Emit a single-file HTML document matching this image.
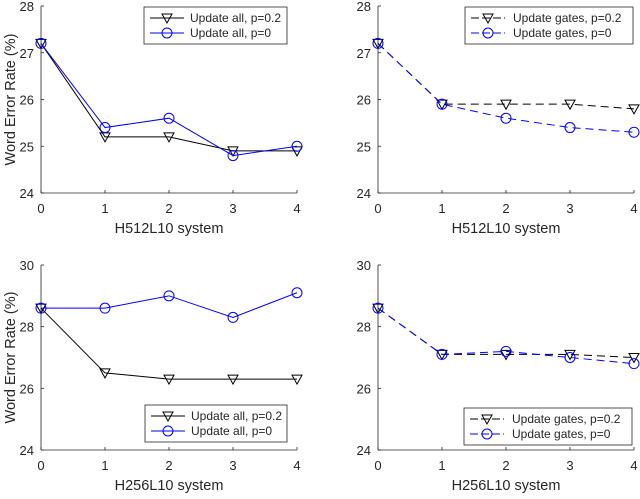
<!DOCTYPE html>
<html><head><meta charset="utf-8"><style>
body{margin:0;background:#fff}
svg text{font-family:"Liberation Sans",sans-serif;font-size:12px;fill:#262626}
svg text.tk{font-size:13px}
svg text.ti{font-size:14.5px}
</style></head><body>
<svg id="c" width="640" height="494" viewBox="0 0 640 494"></svg>
<script>
const xCats=[0,1,2,3,4];
const tlBlack=[27.2,25.2,25.2,24.9,24.9];
const tlBlue=[27.2,25.4,25.6,24.8,25.0];
const trBlack=[27.2,25.9,25.9,25.9,25.8];
const trBlue=[27.2,25.9,25.6,25.4,25.3];
const blBlack=[28.6,26.5,26.3,26.3,26.3];
const blBlue=[28.6,28.6,29.0,28.3,29.1];
const brBlack=[28.6,27.1,27.1,27.1,27.0];
const brBlue=[28.6,27.1,27.2,27.0,26.8];
const topTicks=[24,25,26,27,28];
const botTicks=[24,26,28,30];
const NS="http://www.w3.org/2000/svg";
const svg=document.getElementById('c');
function mk(tag,attrs,parent){const e=document.createElementNS(NS,tag);for(const k in attrs)e.setAttribute(k,attrs[k]);(parent||svg).appendChild(e);return e;}
function panel(o){
  const g=mk('g',{});
  
  
  const X=v=>o.x0+(v-xCats[0])*(o.x1-o.x0)/(xCats[xCats.length-1]-xCats[0]);
  const Y=v=>o.yb+(v-o.ymin)*(o.yt-o.yb)/(o.ymax-o.ymin);
  const ax=mk('g',{},g);
  
  
  mk('line',{x1:o.x0,y1:o.yt,x2:o.x0,y2:o.yb,stroke:'#262626','stroke-width':0.8},ax);
  mk('line',{x1:o.x0,y1:o.yb,x2:o.x1,y2:o.yb,stroke:'#262626','stroke-width':0.8},ax);
  o.ticks.forEach(t=>{
    mk('line',{x1:o.x0,y1:Y(t),x2:o.x0+3,y2:Y(t),stroke:'#262626','stroke-width':0.8},ax);
    const tx=mk('text',{x:o.x0-7,y:Y(t)+5,'text-anchor':'end','class':'tk'},ax);tx.textContent=t;
    
    
  });
  xCats.forEach(c=>{
    mk('line',{x1:X(c),y1:o.yb,x2:X(c),y2:o.yb-3,stroke:'#262626','stroke-width':0.8},ax);
    const tx=mk('text',{x:X(c),y:o.yb+20,'text-anchor':'middle','class':'tk'},ax);tx.textContent=c;
    
    
  });
  const xt=mk('text',{x:(o.x0+o.x1)/2,y:o.yb+40,'text-anchor':'middle','class':'ti'},ax);xt.textContent=o.xtitle;
  
  
  if(o.ytitle){
    const cy=(o.yt+o.yb)/2;
    const yt=mk('text',{x:15,y:cy,'text-anchor':'middle','class':'ti',transform:`rotate(-90 15 ${cy})`},ax);yt.textContent=o.ytitle;
    
    
  }
  const dash=o.dashed?'8,5':'none';
  function series(vals,color,marker,nm){
    const sg=mk('g',{},g);
    
    
    mk('polyline',{points:vals.map((v,i)=>X(xCats[i])+','+Y(v)).join(' '),fill:'none',stroke:color,'stroke-width':1,'stroke-dasharray':dash},sg);
    vals.forEach((v,i)=>drawMarker(sg,X(xCats[i]),Y(v),marker,color));
  }
  series(o.black,'#000','tri','series-p02');
  series(o.blue,'#0000ff','circ','series-p0');
  const lg=mk('g',{},g);
  
  
  mk('rect',{x:o.lx,y:o.ly,width:o.lw,height:37,fill:'#fff',stroke:'#262626','stroke-width':0.8},lg);
  [['#000','tri',o.labels[0]],['#0000ff','circ',o.labels[1]]].forEach((e,i)=>{
    const yy=o.ly+11+i*15;
    mk('line',{x1:o.lx+6,y1:yy,x2:o.lx+40,y2:yy,stroke:e[0],'stroke-width':1,'stroke-dasharray':o.dashed?'8,3':'none'},lg);
    drawMarker(lg,o.lx+23,yy,e[1],e[0]);
    const t=mk('text',{x:o.lx+(o.dashed?48:46),y:yy+4},lg);t.textContent=e[2];
    
    
  });
}
function drawMarker(p,x,y,type,color){
  if(type==='tri') mk('polygon',{points:`${x-5},${y-4} ${x+5},${y-4} ${x},${y+5}`,fill:'none',stroke:color,'stroke-width':1},p);
  else mk('circle',{cx:x,cy:y,r:5,fill:'none',stroke:color,'stroke-width':1},p);
}
panel({name:'panel-top-left',x0:41,x1:297,yt:6,yb:193,ymin:24,ymax:28,ticks:topTicks,black:tlBlack,blue:tlBlue,xtitle:'H512L10 system',ytitle:'Word Error Rate (%)',dashed:false,lx:144,ly:7,lw:143,labels:['Update all, p=0.2','Update all, p=0']});
panel({name:'panel-top-right',x0:378,x1:634,yt:6,yb:193,ymin:24,ymax:28,ticks:topTicks,black:trBlack,blue:trBlue,xtitle:'H512L10 system',ytitle:null,dashed:true,lx:465,ly:7,lw:168,labels:['Update gates, p=0.2','Update gates, p=0']});
panel({name:'panel-bottom-left',x0:41,x1:297,yt:265,yb:450,ymin:24,ymax:30,ticks:botTicks,black:blBlack,blue:blBlue,xtitle:'H256L10 system',ytitle:'Word Error Rate (%)',dashed:false,lx:145,ly:405,lw:142,labels:['Update all, p=0.2','Update all, p=0']});
panel({name:'panel-bottom-right',x0:378,x1:634,yt:265,yb:450,ymin:24,ymax:30,ticks:botTicks,black:brBlack,blue:brBlue,xtitle:'H256L10 system',ytitle:null,dashed:true,lx:464,ly:408,lw:168,labels:['Update gates, p=0.2','Update gates, p=0']});
</script>
</body></html>
